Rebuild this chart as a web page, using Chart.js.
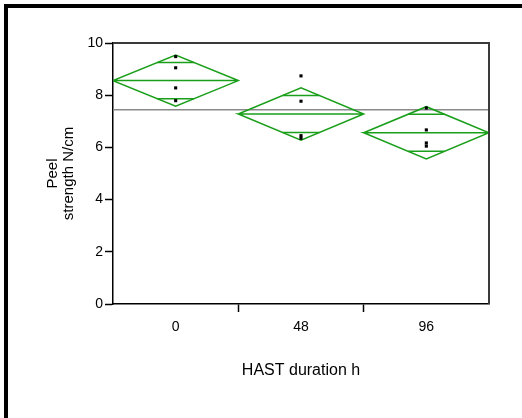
<!DOCTYPE html>
<html>
<head>
<meta charset="utf-8">
<script src="https://cdn.jsdelivr.net/npm/chart.js@4"></script>
<style>
  html, body { margin: 0; padding: 0; background: #fff; }
  #wrap { position: relative; width: 522px; height: 418px; }
  #edge {
    position: absolute; left: 4px; top: 4px; right: 0; bottom: 0;
    border-top: 4px solid #000; border-left: 4px solid #000;
  }
  canvas { position: absolute; left: 0; top: 0; }
</style>
</head>
<body>
<div id="wrap">
  <div id="edge"></div>
  <canvas id="chart" width="522" height="418"></canvas>
</div>
<script>
// groups on the x axis (HAST duration, h)
const groups = ["0", "48", "96"];

// group means and 95% CI half-widths (diamonds)
const means = [8.56, 7.28, 6.56];
const ciHalf = [0.98, 1.0, 1.0];

// individual peel strength readings per group
const pts0 = [9.48, 9.05, 8.28, 7.79];
const pts48 = [8.74, 7.77, 6.45, 6.35];
const pts96 = [7.51, 6.67, 6.17, 6.05];

const grandMean = 7.44;

const yTicks = [0, 2, 4, 6, 8, 10];

const green = "#1a9f1a";

const datasets = [];

// diamonds: outline + mean line, then overlap marks
groups.forEach((g, i) => {
  const m = means[i];
  const c = ciHalf[i];
  datasets.push({
    type: "line",
    data: [
      { x: i - 0.5, y: m },
      { x: i, y: m + c },
      { x: i + 0.5, y: m },
      { x: i, y: m - c },
      { x: i - 0.5, y: m },
      { x: i + 0.5, y: m }
    ],
    borderColor: green,
    borderWidth: 1.5,
    pointRadius: 0,
    fill: false,
    tension: 0,
    order: 1
  });

  const o = c / Math.SQRT2;
  const w = 0.5 * (1 - 1 / Math.SQRT2);
  datasets.push({
    type: "line",
    data: [
      { x: i - w, y: m + o },
      { x: i + w, y: m + o },
      { x: i, y: null },
      { x: i - w, y: m - o },
      { x: i + w, y: m - o }
    ],
    spanGaps: false,
    borderColor: green,
    borderWidth: 1.5,
    pointRadius: 0,
    fill: false,
    order: 1
  });
});

// raw points
const allPts = [pts0, pts48, pts96];
datasets.push({
  type: "scatter",
  data: allPts.flatMap((arr, i) => arr.map(v => ({ x: i, y: v }))),
  pointStyle: "rect",
  pointRadius: 2.2,
  pointBackgroundColor: "#000",
  pointBorderWidth: 0,
  order: 0
});

// grand mean line
datasets.push({
  type: "line",
  data: [
    { x: -0.5, y: grandMean },
    { x: groups.length - 0.5, y: grandMean }
  ],
  borderColor: "#8a8a8a",
  borderWidth: 1.5,
  pointRadius: 0,
  order: 3
});

const frame = {
  id: "frame",
  afterDatasetsDraw(chart) {
    const { ctx, chartArea: a } = chart;
    ctx.save();
    ctx.strokeStyle = "#3a3a3a";
    ctx.lineWidth = 2;
    ctx.beginPath();
    ctx.moveTo(a.left, a.top);
    ctx.lineTo(a.right, a.top);
    ctx.lineTo(a.right, a.bottom);
    ctx.stroke();
    ctx.restore();
  }
};

Chart.defaults.font.family = "'Liberation Sans', Arial, sans-serif";
Chart.defaults.color = "#000";

new Chart(document.getElementById("chart"), {
  type: "line",
  data: { datasets },
  options: {
    responsive: false,
    animation: false,
    layout: {
      padding: { left: 0, top: 43, right: 33, bottom: 0 }
    },
    plugins: {
      legend: { display: false },
      tooltip: { enabled: false }
    },
    scales: {
      x: {
        type: "linear",
        min: -0.5,
        max: groups.length - 0.5,
        afterFit: s => { s.height = 114; },
        ticks: {
          stepSize: 0.5,
          autoSkip: false,
          maxRotation: 0,
          padding: 7,
          font: { size: 14 },
          callback: v => Number.isInteger(v) ? groups[v] : ""
        },
        grid: {
          drawOnChartArea: false,
          tickLength: 8,
          tickWidth: 1.5,
          tickColor: ctx => {
            const v = ctx.tick ? ctx.tick.value : 0;
            if (Number.isInteger(v)) return "rgba(0,0,0,0)";
            if (v <= -0.5 || v >= groups.length - 0.5) return "rgba(0,0,0,0)";
            return "#000";
          }
        },
        border: { color: "#000", width: 1.5 },
        title: {
          display: true,
          text: "HAST duration h",
          font: { size: 16 },
          padding: { top: 0, bottom: 38 }
        }
      },
      y: {
        min: 0,
        max: 10,
        afterFit: s => { s.width = 113; },
        afterBuildTicks: s => { s.ticks = yTicks.map(v => ({ value: v })); },
        ticks: {
          padding: 2,
          font: { size: 14 }
        },
        grid: {
          drawOnChartArea: false,
          tickLength: 8,
          tickColor: "#000",
          tickWidth: 1.5
        },
        border: { color: "#000", width: 1.5 },
        title: {
          display: true,
          text: ["Peel", "strength N/cm"],
          font: { size: 15, lineHeight: 1.07 },
          padding: { top: 45, bottom: 0 }
        }
      }
    }
  },
  plugins: [frame]
});
</script>
</body>
</html>
